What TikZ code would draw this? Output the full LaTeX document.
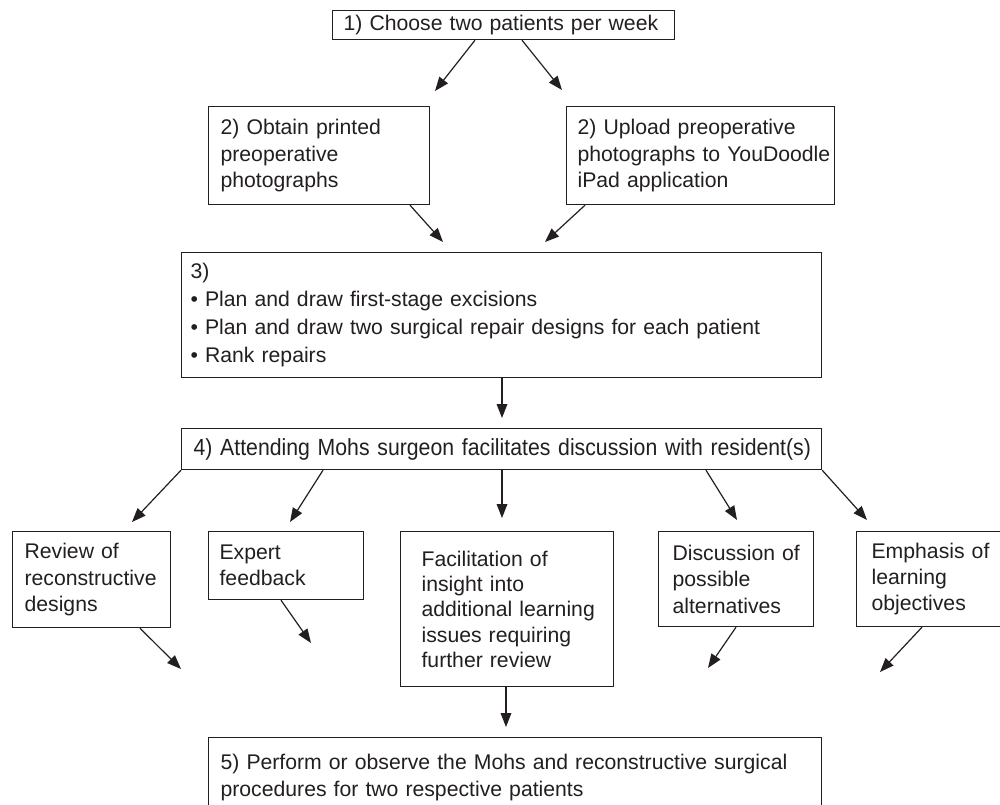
\documentclass[tikz,border=0pt]{standalone}
\usepackage{fontspec}
\setmainfont{Liberation Sans}
\newfontfamily\narrowfont[FakeStretch=0.91]{Liberation Sans}
\usetikzlibrary{arrows.meta}
\newdimen\px \px=0.75pt
\definecolor{ink}{HTML}{231F20}
\tikzset{
  box/.style={draw=ink, line width=0.9pt, text=ink, anchor=north west, align=left,
    inner ysep=0pt, font=\fontsize{15.9pt}{19.8pt}\selectfont},
  arr/.style={draw=ink, line width=0.9pt, -{Triangle[length=10.5pt,width=8pt]}},
}
\begin{document}
\begin{tikzpicture}[x=0.75pt,y=-0.75pt]
\useasboundingbox (0,0) rectangle (1000,804);
\clip (0,0) rectangle (1000,804);
\fill[white] (0,0) rectangle (1000,804);

% boxes
\node[box, minimum width=342\px, minimum height=29\px, inner xsep=11\px, text width=320\px] (b1) at (332,10) {1) Choose two patients per week};
\node[box, minimum width=221\px, minimum height=98\px, inner xsep=12\px, text width=197\px] (b2a) at (208,106) {2) Obtain printed\\ preoperative\\ photographs};
\node[box, minimum width=268\px, minimum height=98\px, inner xsep=11\px, text width=246\px] (b2b) at (566,106) {2) Upload preoperative\\ \mbox{photographs to YouDoodle}\\ iPad application};
\node[box, minimum width=640\px, minimum height=125\px, inner xsep=9\px, text width=622\px, font=\fontsize{15.9pt}{20.8pt}\selectfont] (b3) at (181,252) {3)\\ \mbox{• Plan and draw first-stage excisions}\\ \mbox{• Plan and draw two surgical repair designs for each patient}\\ • Rank repairs};
\node[box, minimum width=640\px, minimum height=41\px, inner xsep=12\px, text width=616\px, font=\narrowfont\fontsize{17.5pt}{20pt}\selectfont] (b4) at (181,428) {\mbox{4) Attending Mohs surgeon facilitates discussion with resident(s)}};
\node[box, minimum width=158\px, minimum height=96\px, inner xsep=12\px, text width=134\px] (bA) at (12,531) {Review of\\ \mbox{reconstructive}\\ designs};
\node[box, minimum width=155\px, minimum height=68\px, inner xsep=11\px, text width=133\px] (bB) at (208,531) {Expert\\ feedback};
\node[box, minimum width=213\px, minimum height=155\px, inner xsep=21\px, text width=171\px, font=\fontsize{15.9pt}{19pt}\selectfont] (bC) at (400,531) {Facilitation of\\ insight into\\ \mbox{additional learning}\\ issues requiring\\ further review};
\node[box, minimum width=155\px, minimum height=95\px, inner xsep=14\px, text width=127\px] (bD) at (658,531) {\mbox{Discussion of}\\ possible\\ alternatives};
\node[box, minimum width=160\px, minimum height=95\px, inner xsep=15\px, text width=130\px] (bE) at (856,531) {Emphasis of\\ learning\\ objectives};
\node[box, minimum width=613\px, minimum height=79\px, inner xsep=12\px, text width=589\px, font=\fontsize{15.9pt}{20.3pt}\selectfont] (b5) at (208,737) {\mbox{5) Perform or observe the Mohs and reconstructive surgical}\\ procedures for two respective patients};

% arrow tips (free ends)
\coordinate (t1) at (435,91);
\coordinate (t2) at (562,90);
\coordinate (t3) at (443,242);
\coordinate (t4) at (545,242);
\coordinate (t5) at (502,418);
\coordinate (t6) at (132,522);
\coordinate (t7) at (290,522);
\coordinate (t8) at (502,518);
\coordinate (t9) at (737,520);
\coordinate (t10) at (867,520);
\coordinate (t11) at (181,669);
\coordinate (t12) at (311,643);
\coordinate (t13) at (506,727);
\coordinate (t14) at (708,668);
\coordinate (t15) at (880,672);

% connectors
\draw[arr] (475,0 |- b1.south) -- (t1);
\draw[arr] (522,0 |- b1.south) -- (t2);
\draw[arr] (410,0 |- b2a.south) -- (t3);
\draw[arr] (585,0 |- b2b.south) -- (t4);
\draw[arr] (502,0 |- b3.south) -- (t5);
\draw[arr] (b4.south west) -- (t6);
\draw[arr] (323,0 |- b4.south) -- (t7);
\draw[arr] (502,0 |- b4.south) -- (t8);
\draw[arr] (706,0 |- b4.south) -- (t9);
\draw[arr] (b4.south east) -- (t10);
\draw[arr] (140,0 |- bA.south) -- (t11);
\draw[arr] (281,0 |- bB.south) -- (t12);
\draw[arr] (506,0 |- bC.south) -- (t13);
\draw[arr] (736,0 |- bD.south) -- (t14);
\draw[arr] (922,0 |- bE.south) -- (t15);
\end{tikzpicture}
\end{document}
